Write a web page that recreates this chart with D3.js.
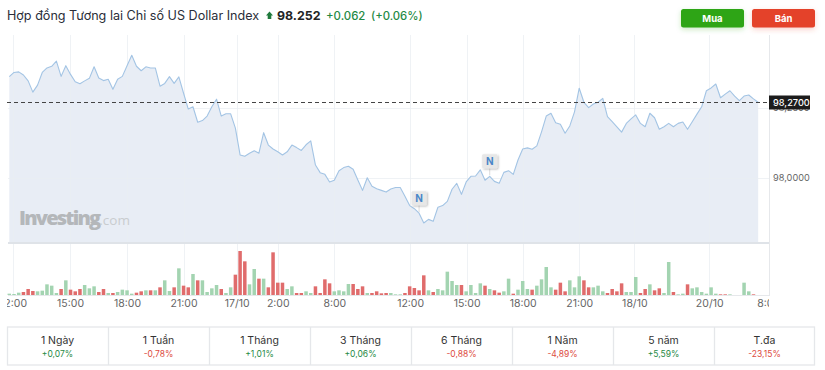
<!DOCTYPE html>
<html><head><meta charset="utf-8">
<script src="https://cdnjs.cloudflare.com/ajax/libs/d3/7.9.0/d3.min.js"></script>
<style>
html,body{margin:0;padding:0;background:#fff;overflow:hidden}
svg{display:block;font-family:Inter,"Noto Sans",sans-serif}
</style></head><body>
<svg id="c" width="825" height="370"></svg>
<script>
const prices = [
98.360,98.375,98.377,98.366,98.345,98.305,98.330,98.375,98.391,98.397,
98.415,98.361,98.399,98.368,98.342,98.335,98.345,98.354,98.395,98.355,
98.346,98.351,98.315,98.351,98.361,98.399,98.436,98.397,98.381,98.395,
98.391,98.391,98.326,98.336,98.360,98.336,98.359,98.301,98.245,98.253,
98.198,98.204,98.220,98.253,98.280,98.220,98.228,98.228,98.177,98.082,
98.077,98.088,98.097,98.088,98.161,98.117,98.103,98.093,98.082,98.093,
98.117,98.108,98.098,98.118,98.132,98.046,98.019,98.013,97.986,97.992,
98.026,98.037,98.042,98.031,97.993,97.956,98.001,97.971,97.962,97.956,
97.950,97.961,97.966,97.966,97.935,97.902,97.891,97.875,97.840,97.853,
97.846,97.896,97.902,97.917,97.960,97.981,97.942,97.986,98.006,98.007,
98.029,97.992,98.006,97.988,97.981,98.020,98.026,98.013,98.064,98.103,
98.107,98.102,98.114,98.164,98.220,98.230,98.196,98.191,98.159,98.185,
98.235,98.319,98.269,98.250,98.263,98.269,98.283,98.218,98.200,98.182,
98.163,98.194,98.210,98.224,98.194,98.182,98.230,98.214,98.173,98.182,
98.194,98.182,98.194,98.199,98.173,98.200,98.227,98.253,98.310,98.320,
98.334,98.285,98.298,98.310,98.291,98.275,98.291,98.295,98.281,98.269];

const volumes = [
4,3,7,9,18,12,11,13,32,28,6,18,44,16,11,18,30,20,26,9,
18,6,6,9,16,14,4,7,11,14,14,14,23,44,12,23,80,28,23,63,
44,44,9,20,30,18,6,23,61,132,101,32,78,49,49,23,128,37,37,18,
26,6,6,11,6,26,6,47,35,11,14,11,33,33,18,26,6,6,11,5,
6,6,2,2,6,26,21,14,59,14,9,18,14,70,42,30,30,11,30,6,
35,28,18,14,7,11,49,4,16,42,18,16,28,47,84,23,16,37,11,44,
23,56,44,23,23,28,11,6,18,11,35,9,9,54,6,18,32,14,20,6,
99,9,2,4,32,20,23,9,4,23,4,2,2,2,0,0,37,11,2,0];

const volumeUp = [
"1110001111","1010001110","0101111001","0101101001","0111101100","0110100001","1001100001","1110001000",
"0111000001","0111110111","1010011011","1011110001","1100111000","0111001001","1011011111","1001111101"].join("");

const tickIndex = [0.8,12.9,25,37,48.3,57,69,85.1,97.1,109,121,132.7,148.6,161.1];
const tickLabels = ["12:00","15:00","18:00","21:00","17/10","2:00","8:00","12:00","15:00","18:00","21:00","18/10","20/10","8:00"];
const priceTicks = [98, 98.25];
const lastPrice = 98.27;
const newsIndex = [87, 102];
const periods = ["1 Ngày","1 Tuần","1 Tháng","3 Tháng","6 Tháng","1 Năm","5 năm","T.đa"];
const changes = ["+0,07%","-0,78%","+1,01%","+0,06%","-0,88%","-4,89%","+5,59%","-23,15%"];

const GREEN="#1f8a45", RED="#dd4b3e";
const svg=d3.select("#c");
const defs=svg.append("defs");
const sh=defs.append("filter").attr("id","sh").attr("x","-30%").attr("y","-30%").attr("width","170%").attr("height","170%");
sh.append("feDropShadow").attr("dx",1).attr("dy",1).attr("stdDeviation",1).attr("flood-color","#000").attr("flood-opacity",.3);
const sg=defs.append("filter").attr("id","sg").attr("x","-20%").attr("y","-40%").attr("width","140%").attr("height","200%");
sg.append("feDropShadow").attr("dx",0).attr("dy",2).attr("stdDeviation",2.5).attr("flood-color","#2ea512").attr("flood-opacity",.25);
const sr=defs.append("filter").attr("id","sr").attr("x","-20%").attr("y","-40%").attr("width","140%").attr("height","200%");
sr.append("feDropShadow").attr("dx",0).attr("dy",2).attr("stdDeviation",2.5).attr("flood-color","#e4432a").attr("flood-opacity",.25);
defs.append("clipPath").attr("id","axclip").append("rect").attr("x",7).attr("y",296).attr("width",762).attr("height",18);

const x=d3.scaleLinear().domain([0,159]).range([9.3,758.2]);
const y=d3.scaleLinear().domain([98,98.27]).range([178,102]);
const v=d3.scaleLinear().domain([0,140]).range([295,295-140/3]);

// header
const tY=20;
svg.append("text").attr("x",7).attr("y",tY).attr("font-size",12.6).attr("fill","#2a2e39").text("Hợp đồng Tương lai Chỉ số US Dollar Index");
svg.append("path").attr("d","M269.5 11.5l3.5 4h-1.7v3.5h-3.6v-3.5h-1.7z").attr("fill","#1f7a3c");
svg.append("text").attr("x",277).attr("y",tY).attr("font-size",12.4).attr("font-weight",700).attr("fill","#232526").text("98.252");
svg.append("text").attr("x",326).attr("y",tY).attr("font-size",11.4).attr("font-weight",500).attr("fill",GREEN).text("+0.062");
svg.append("text").attr("x",371).attr("y",tY).attr("font-size",11.3).attr("font-weight",500).attr("fill",GREEN).text("(+0.06%)");

// buttons
[["Mua",681,"#2ea512","sg"],["Bán",752,"#e4432a","sr"]].forEach(b=>{
  svg.append("rect").attr("x",b[1]).attr("y",9).attr("width",63).attr("height",18.5).attr("rx",2.5).attr("fill",b[2]).attr("filter",`url(#${b[3]})`);
  svg.append("text").attr("x",b[1]+31.5).attr("y",21.5).attr("text-anchor","middle").attr("font-size",9.5).attr("font-weight",700).attr("fill","#fff").text(b[0]);
});

// area + line
const base=242;
svg.append("path").datum(prices).attr("fill","#e8edf5")
  .attr("d",d3.area().x((d,i)=>x(i)).y0(base).y1(d=>y(d)));

// grid
const grid=svg.append("g").attr("stroke","#e9edf2").attr("stroke-opacity",.75).attr("stroke-width",1);
grid.selectAll("line.v").data(tickIndex.slice(0,13)).join("line").attr("x1",d=>Math.round(x(d))+.5).attr("x2",d=>Math.round(x(d))+.5).attr("y1",35).attr("y2",295);
grid.selectAll("line.h").data(priceTicks).join("line").attr("x1",8).attr("x2",769).attr("y1",d=>Math.round(y(d))+.5).attr("y2",d=>Math.round(y(d))+.5);

svg.append("path").datum(prices).attr("fill","none").attr("stroke","#a3c4e4").attr("stroke-width",1.1).attr("stroke-linejoin","round")
  .attr("d",d3.line().x((d,i)=>x(i)).y(d=>y(d)));

// separator + frame
svg.append("rect").attr("x",8).attr("y",242).attr("width",761).attr("height",2).attr("fill","#dfe3e8");
svg.append("line").attr("x1",769.5).attr("x2",769.5).attr("y1",35).attr("y2",296).attr("stroke","#e6e8eb");
svg.append("line").attr("x1",8).attr("x2",769).attr("y1",295.5).attr("y2",295.5).attr("stroke","#e6e8eb");

// watermark
const wm=svg.append("text").attr("x",19).attr("y",225).attr("font-family","'Open Sans',sans-serif");
wm.append("tspan").attr("font-size",20).attr("font-weight",800).attr("fill","#b4b7ba").attr("letter-spacing",-1.8).text("Investing");
wm.append("tspan").attr("font-size",13.5).attr("fill","#c9cccf").attr("letter-spacing",0).text(".com");

// volume bars
svg.append("g").selectAll("rect").data(volumes).join("rect")
  .attr("x",(d,i)=>x(i)-1.75).attr("width",3.5)
  .attr("y",d=>v(d)).attr("height",d=>v(0)-v(d))
  .attr("fill",(d,i)=>volumeUp[i]==="1"?"#a3d4b1":"#e06c6c");

// x axis
const axG=svg.append("g").attr("clip-path","url(#axclip)");
const ax=d3.axisBottom(x).tickValues(tickIndex).tickFormat((d,i)=>tickLabels[i]).tickSize(0).tickPadding(0);
const axInner=axG.append("g").attr("transform","translate(0,300)").call(ax);
axInner.select(".domain").remove();
axInner.selectAll("text").attr("font-family","Inter,sans-serif").attr("font-size",10.5).attr("fill","#666").attr("dy","0.71em").attr("y",0);

// y axis
const ay=d3.axisRight(y).tickValues(priceTicks).tickFormat(d=>d3.format(".4f")(d).replace(".",",")).tickSize(0).tickPadding(0);
const ayG=svg.append("g").attr("transform","translate(773,0)").call(ay);
ayG.select(".domain").remove();
ayG.selectAll("text").attr("font-family","Inter,sans-serif").attr("font-size",9.2).attr("fill","#666");

// current price
svg.append("line").attr("x1",7).attr("x2",769).attr("y1",y(lastPrice)+.5).attr("y2",y(lastPrice)+.5)
  .attr("stroke","#444").attr("stroke-dasharray","4,3");
svg.append("rect").attr("x",769).attr("y",y(lastPrice)-6.5).attr("width",41).attr("height",14).attr("fill","#1c1c1c");
svg.append("text").attr("x",773).attr("y",y(lastPrice)+4).attr("font-size",9.2).attr("font-weight",500).attr("fill","#fff").text(d3.format(".4f")(lastPrice).replace(".",","));

// news markers
const n=svg.append("g").selectAll("g").data(newsIndex).join("g")
  .attr("transform",d=>`translate(${x(d)},${y(prices[d])})`);
n.append("line").attr("y1",-8).attr("y2",-1).attr("stroke","#dcdcdc");
n.append("rect").attr("x",-7.5).attr("y",-22).attr("width",15).attr("height",14).attr("rx",1).attr("fill","#e7e7e7").attr("filter","url(#sh)");
n.append("text").attr("y",-11).attr("text-anchor","middle").attr("font-size",10).attr("font-weight",700).attr("fill","#4a86c8").text("N");

// table
const cols=d3.scaleBand().domain(periods).range([7,815]);
const tb=svg.append("g");
tb.append("rect").attr("x",7.5).attr("y",327).attr("width",807).attr("height",38).attr("fill","none").attr("stroke","#e5e7ea").attr("stroke-width",1.3);
tb.selectAll("line").data(periods.slice(1)).join("line").attr("x1",d=>Math.round(cols(d))+.5).attr("x2",d=>Math.round(cols(d))+.5).attr("y1",327).attr("y2",365).attr("stroke","#e5e7ea").attr("stroke-width",1.3);
tb.selectAll("text.p").data(periods).join("text").attr("class","p").attr("x",d=>cols(d)+cols.bandwidth()/2).attr("y",344).attr("text-anchor","middle").attr("font-size",10.5).attr("fill","#333").text(d=>d);
tb.selectAll("text.c").data(changes).join("text").attr("class","c").attr("x",(d,i)=>cols(periods[i])+cols.bandwidth()/2).attr("y",357).attr("text-anchor","middle").attr("font-size",8.5).attr("fill",d=>d[0]==="+"?GREEN:RED).text(d=>d);
</script>
</body></html>
